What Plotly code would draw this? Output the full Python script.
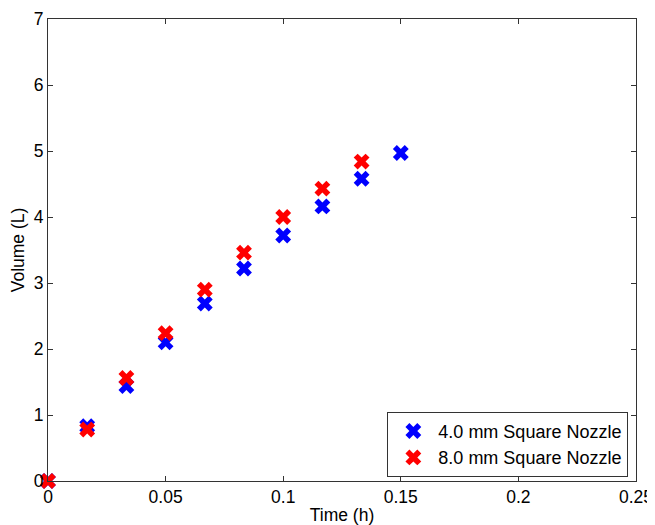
import plotly.graph_objects as go

time_h = [0, 1/60, 2/60, 3/60, 4/60, 5/60, 6/60, 7/60, 8/60, 9/60]
vol_4mm = [0.0, 0.83, 1.44, 2.10, 2.69, 3.22, 3.72, 4.16, 4.58, 4.97]
time_h_8 = [0, 1/60, 2/60, 3/60, 4/60, 5/60, 6/60, 7/60, 8/60]
vol_8mm = [0.0, 0.78, 1.56, 2.24, 2.90, 3.46, 4.00, 4.43, 4.84]

x_ticks = [0, 0.05, 0.1, 0.15, 0.2, 0.25]
x_ticklabels = ["0", "0.05", "0.1", "0.15", "0.2", "0.25"]
y_ticks = [0, 1, 2, 3, 4, 5, 6, 7]

fig = go.Figure()
fig.add_trace(go.Scatter(x=time_h, y=vol_4mm, mode="markers", name="4.0 mm Square Nozzle",
                         marker=dict(symbol="x", size=14, color="#0000ff", line=dict(width=0)),
                         cliponaxis=False))
fig.add_trace(go.Scatter(x=time_h_8, y=vol_8mm, mode="markers", name="8.0 mm Square Nozzle",
                         marker=dict(symbol="x", size=14, color="#ff0000", line=dict(width=0)),
                         cliponaxis=False))

axis_common = dict(showgrid=False, zeroline=False, showline=True, linecolor="#333", linewidth=1,
                   mirror="allticks", ticks="inside", ticklen=5, tickcolor="#333",
                   tickfont=dict(size=17.5, color="black"), automargin=False)

# page body has an 8px margin, so the figure is sized to fill the 655x525 window exactly
fig.update_layout(
    width=647, height=517,
    margin=dict(l=40, r=19, t=11, b=44),
    paper_bgcolor="white", plot_bgcolor="white",
    font=dict(family="Liberation Sans, Arial, sans-serif", color="black"),
    xaxis=dict(range=[0, 0.25], tickvals=x_ticks, ticktext=x_ticklabels,
               title=dict(text="Time (h)", font=dict(size=17.5), standoff=4), **axis_common),
    yaxis=dict(range=[0, 7], tickvals=y_ticks,
               title=dict(text="Volume (L)", font=dict(size=17.5), standoff=6), **axis_common),
    legend=dict(x=0.987, y=0.009, xanchor="right", yanchor="bottom",
                bordercolor="#333", borderwidth=1, bgcolor="white",
                font=dict(size=18), itemwidth=40, tracegroupgap=0),
    showlegend=True,
)

fig.write_html("out.html")
